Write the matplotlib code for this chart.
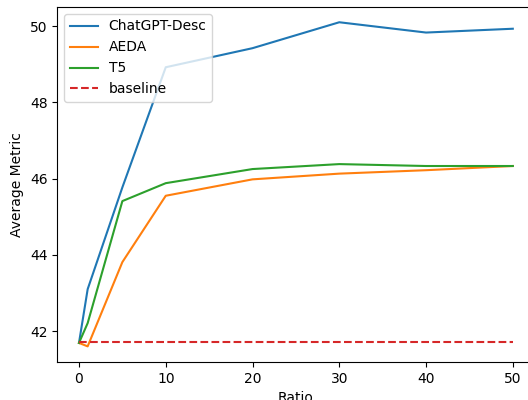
import numpy as np
import matplotlib
matplotlib.use('Agg')
import matplotlib.pyplot as plt

ratios = [0, 1, 5, 10, 20, 30, 40, 50]
chatgpt = [41.69, 43.1, 45.77, 48.92, 49.42, 50.1, 49.83, 49.93]
aeda = [41.69, 41.6, 43.81, 45.55, 45.98, 46.13, 46.22, 46.33]
t5 = [41.69, 42.21, 45.41, 45.88, 46.25, 46.38, 46.33, 46.33]
baseline = 41.71

fig = plt.figure(figsize=(5.28, 4.0), dpi=100)
# the original was cropped on the right, so the axes run past the edge
ax = fig.add_axes([57.3/528, 38/400, (534.5-57.3)/528, (362-7)/400])
ax.plot(ratios, chatgpt, label='ChatGPT-Desc')
ax.plot(ratios, aeda, label='AEDA')
ax.plot(ratios, t5, label='T5')
ax.plot(ratios, [baseline]*len(ratios), '--', color='tab:red', label='baseline')
ax.set_xlim(-2.5, 52.5)
ax.set_ylim(41.19, 50.5)
ax.set_yticks([42, 44, 46, 48, 50])
ax.set_xlabel('Ratio')
ax.set_ylabel('Average Metric')
ax.legend(loc='upper left')
fig.savefig('out.png', dpi=100)
